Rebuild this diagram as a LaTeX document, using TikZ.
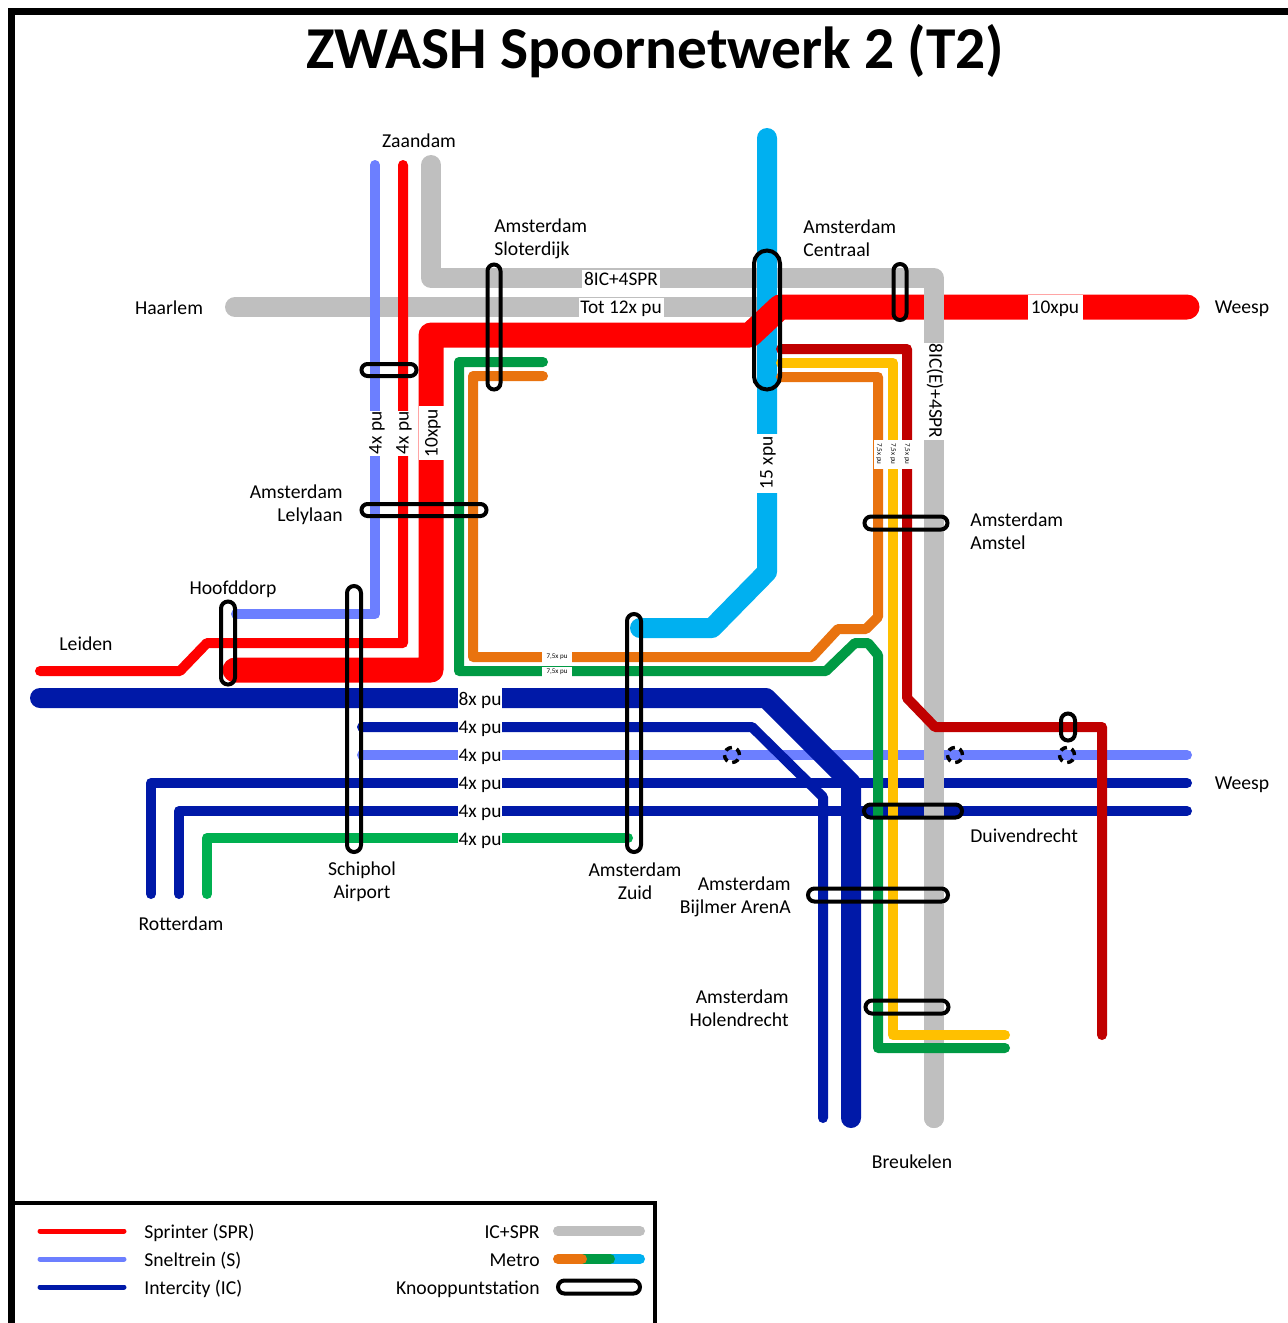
\documentclass[tikz,border=0pt]{standalone}
\usepackage{fontspec}
\setmainfont{Carlito}
\usetikzlibrary{shapes.misc}
\definecolor{sprred}{RGB}{255,0,0}
\definecolor{snelblue}{RGB}{108,127,255}
\definecolor{icblue}{RGB}{0,25,168}
\definecolor{icsprgrey}{RGB}{191,191,191}
\definecolor{metrogreen}{RGB}{0,154,68}
\definecolor{metroorange}{RGB}{233,115,15}
\definecolor{metroyellow}{RGB}{255,192,0}
\definecolor{metrored}{RGB}{192,0,0}
\definecolor{metroblue}{RGB}{0,176,240}
\definecolor{lightgreen}{RGB}{0,176,80}
\newcommand{\pxl}{0.02cm}

\begin{document}
\begin{tikzpicture}[
  x=0.02cm, y=-0.02cm,
  rail/.style 2 args={draw=#1, line width=#2*\pxl, line cap=round, line join=round},
  spr/.style={rail={sprred}{10}},
  sprmain/.style={rail={sprred}{25}},
  snel/.style={rail={snelblue}{10}},
  ic/.style={rail={icblue}{10}},
  icmain/.style={rail={icblue}{20}},
  icspr/.style={rail={icsprgrey}{20}},
  frameline/.style={draw=black, line width=6.5*\pxl},
  legendline/.style={draw=black, line width=3.5*\pxl},
  knoop/.style 2 args={draw=black, rounded rectangle, line width=4*\pxl, inner sep=0pt,
                       minimum width=#1*\pxl, minimum height=#2*\pxl},
  gaplbl/.style 2 args={fill=white, inner sep=0pt, font=\fontsize{11}{13}\selectfont,
                        minimum width=#1*\pxl, minimum height=#2*\pxl},
  tinylbl/.style 2 args={fill=white, inner sep=0pt, font=\fontsize{4}{5}\selectfont,
                         minimum width=#1*\pxl, minimum height=#2*\pxl},
  stn/.style={inner sep=0pt, font=\fontsize{11.2}{13}\selectfont},
  halt/.style={draw=black, dash pattern=on 3.9pt off 2.8pt, circle, line width=3.5*\pxl,
               minimum size=15*\pxl, inner sep=0pt}
]
\useasboundingbox (0,0) rectangle (1288,1323);

% ---- frame and title ----
\draw[frameline] (11.5,1323) -- (11.5,11.5) -- (1288,11.5);
\node[inner sep=0pt, font=\fontsize{33.8}{40}\selectfont\bfseries] (title) at (655.5,51) {ZWASH Spoornetwerk 2 (T2)};

% ---- horizontal IC / sneltrein bundle ----
\draw[snel] (362,755) -- (1187,755);
\draw[icmain] (40,698) -- (766,698) -- (851,783) -- (851,1118);
\draw[ic] (362,727) -- (752,727) -- (823,797) -- (823,1118);
\draw[ic] (151,894) -- (151,783) -- (1187,783);
\draw[ic] (179,894) -- (179,811) -- (1187,811);
\draw[rail={lightgreen}{10}] (207,894) -- (207,838) -- (628,838);

% ---- IC+SPR, Sprinter and sneltrein around Amsterdam ----
\draw[icspr] (235,307) -- (770,307);
\draw[icspr] (431,165) -- (431,278) -- (934,278) -- (934,1118);
\draw[snel] (375,165) -- (375,614) -- (236,614);
\draw[spr] (403,165) -- (403,643) -- (207,643) -- (180,671) -- (40,671);
\draw[rail={metroblue}{20}] (767,138) -- (767,572) -- (712,628) -- (640,628);
\draw[sprmain] (1187,307) -- (780,307) -- (750,335) -- (431,335) -- (431,670) -- (235,670);
\draw[icspr] (934,285) -- (934,1118);

% ---- metro lines ----
\draw[rail={metrogreen}{10}] (543,362) -- (459,362) -- (459,671) -- (826,671) -- (855,643) -- (868,643) -- (878,655) -- (878,1048) -- (1005,1048);
\draw[rail={metroorange}{10}] (543,376) -- (473,376) -- (473,657) -- (812,657) -- (838,629) -- (866,629) -- (878,617) -- (878,377) -- (781,377);
\draw[rail={metroyellow}{10}] (781,363) -- (893,363) -- (893,1035) -- (1005,1035);
\draw[rail={metrored}{10}] (781,349) -- (907,349) -- (907,698) -- (935,727) -- (1102,727) -- (1102,1035);

% ---- frequency labels, each one breaks its line ----
\node[gaplbl={78}{19}] (gapupper) at (621,279) {8IC+4SPR};
\node[gaplbl={85}{22}] (gaplower) at (621,309) {Tot 12x pu};
\node[gaplbl={55}{29}] (gapweesp) at (1055,309) {10xpu};
\node[gaplbl={45}{12}, rotate=90] (gapsnel) at (377,433) {4x pu};
\node[gaplbl={45}{12}, rotate=90] (gapspr) at (404,433) {4x pu};
\node[gaplbl={54}{29}, rotate=90] (gapmain) at (433,433) {10xpu};
\node[gaplbl={59}{24}, rotate=90] (gapmetro) at (768,463) {15 xpu};
\node[gaplbl={97}{22}, rotate=-90] (gapgrey) at (935,391) {8IC(E)+4SPR};
\node[tinylbl={29}{11}, rotate=-90] (gaporange) at (879,454) {7,5x pu};
\node[tinylbl={29}{11}, rotate=-90] (gapyellow) at (893,454) {7,5x pu};
\node[tinylbl={29}{11}, rotate=-90] (gapred) at (907,454) {7,5x pu};
\node[tinylbl={30}{11}] (gapzuidorange) at (557,657) {7,5x pu};
\node[tinylbl={30}{11}] (gapzuidgreen) at (557,672) {7,5x pu};
\node[gaplbl={44}{24}] (gapic) at (480,700) {8x pu};
\node[gaplbl={44}{12}] (gapicb) at (480,729) {4x pu};
\node[gaplbl={44}{12}] (gapsneltrein) at (480,757) {4x pu};
\node[gaplbl={44}{12}] (gapicc) at (480,785) {4x pu};
\node[gaplbl={44}{12}] (gapicd) at (480,813) {4x pu};
\node[gaplbl={44}{12}] (gapsub) at (480,841) {4x pu};

% ---- knooppunten ----
\node[knoop={125}{13}, rotate=90] (sloterdijk) at (494,327) {};
\node[knoop={55}{12}] (zaandamk) at (389,370) {};
\node[knoop={125}{12}] (lelylaan) at (424,510) {};
\node[knoop={139}{26}, rotate=90] (centraal) at (767,320) {};
\node[knoop={56}{13}, rotate=90] (centraalb) at (900,292) {};
\node[knoop={83}{13}] (amstel) at (906,523) {};
\node[knoop={83}{14}, rotate=90] (hoofddorp) at (228,643) {};
\node[knoop={266}{14}, rotate=90] (schiphol) at (354,719) {};
\node[knoop={238}{14}, rotate=90] (zuid) at (634,733) {};
\node[knoop={98}{13}] (duivendrecht) at (913,811) {};
\node[knoop={140}{13}] (bijlmer) at (878,895) {};
\node[knoop={83}{13}] (holendrecht) at (907,1007) {};
\node[knoop={27}{14}, rotate=90] (weespk) at (1068,727) {};
\node[halt] (halta) at (732,755) {};
\node[halt] (haltb) at (955,755) {};
\node[halt] (haltc) at (1067,755) {};

% ---- station names ----
\node[stn] (zaandam) at (419,141) {Zaandam};
\node[stn, anchor=west, align=left] (tsloterdijk) at (494,239) {Amsterdam\\Sloterdijk};
\node[stn, anchor=west, align=left] (tcentraal) at (803,238) {Amsterdam\\Centraal};
\node[stn] (haarlem) at (169,308) {Haarlem};
\node[stn] (weespa) at (1242,309) {Weesp};
\node[stn, anchor=east, align=right] (tlelylaan) at (343,505) {Amsterdam\\Lelylaan};
\node[stn] (thoofddorp) at (233,589) {Hoofddorp};
\node[stn] (leiden) at (86,644) {Leiden};
\node[stn, anchor=west, align=left] (tamstel) at (970,531) {Amsterdam\\Amstel};
\node[stn] (weespb) at (1242,785) {Weesp};
\node[stn, anchor=west] (tduivendrecht) at (970,836) {Duivendrecht};
\node[stn, align=center] (tschiphol) at (362,882) {Schiphol\\Airport};
\node[stn] (rotterdam) at (181,924) {Rotterdam};
\node[stn, align=center] (tzuid) at (635,881) {Amsterdam\\Zuid};
\node[stn, anchor=east, align=right] (tbijlmer) at (791,897) {Amsterdam\\Bijlmer ArenA};
\node[stn, anchor=east, align=right] (tholendrecht) at (789,1008) {Amsterdam\\Holendrecht};
\node[stn] (breukelen) at (912,1162) {Breukelen};

% ---- legend ----
\draw[legendline] (11.5,1203) -- (655,1203) -- (655,1323);
\draw[rail={sprred}{5}] (40,1231) -- (124,1231);
\draw[rail={snelblue}{5}] (40,1259) -- (124,1259);
\draw[rail={icblue}{5}] (40,1287) -- (124,1287);
\node[stn, anchor=west] (lgspr) at (144,1233) {Sprinter (SPR)};
\node[stn, anchor=west] (lgsnel) at (144,1261) {Sneltrein (S)};
\node[stn, anchor=west] (lgic) at (144,1289) {Intercity (IC)};
\node[stn, anchor=east] (lgicspr) at (540,1232) {IC+SPR};
\node[stn, anchor=east] (lgmetro) at (540,1260) {Metro};
\node[stn, anchor=east] (lgknoop) at (540,1289) {Knooppuntstation};
\draw[rail={icsprgrey}{10}] (558,1231) -- (640,1231);
\draw[rail={metroblue}{10}] (610,1259) -- (640,1259);
\draw[rail={metrogreen}{10}] (582,1259) -- (610,1259);
\draw[rail={metroorange}{10}] (558,1259) -- (582,1259);
\node[knoop={82}{13}] (lgstation) at (599,1287) {};
\end{tikzpicture}
\end{document}
